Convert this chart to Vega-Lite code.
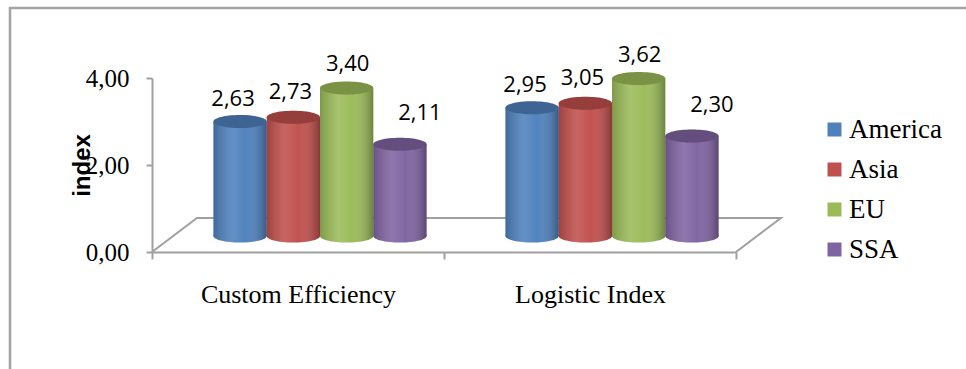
{
  "$schema": "https://vega.github.io/schema/vega-lite/v6.json",
  "usermeta": {"embedOptions": {"actions": false}},
  "width": 976,
  "height": 381,
  "autosize": {"type": "none"},
  "padding": {"left": 10, "top": 8, "right": -20, "bottom": -20},
  "background": "white",
  "config": {
    "locale": {"number": {"decimal": ",", "thousands": ".", "grouping": [3], "currency": ["", " €"]}},
    "view": {"stroke": "#a3a3a3", "strokeWidth": 2.5},
    "axis": {"grid": false}
  },
  "datasets": {
    "regions": [
      {"indicator": "Custom Efficiency", "region": "America", "value": 2.63},
      {"indicator": "Custom Efficiency", "region": "Asia", "value": 2.73},
      {"indicator": "Custom Efficiency", "region": "EU", "value": 3.40},
      {"indicator": "Custom Efficiency", "region": "SSA", "value": 2.11},
      {"indicator": "Logistic Index", "region": "America", "value": 2.95},
      {"indicator": "Logistic Index", "region": "Asia", "value": 3.05},
      {"indicator": "Logistic Index", "region": "EU", "value": 3.62},
      {"indicator": "Logistic Index", "region": "SSA", "value": 2.30}
    ],
    "floor": [
      {"corner": 1, "across": 0, "depth": 0},
      {"corner": 2, "across": 0, "depth": 1},
      {"corner": 3, "across": 2, "depth": 1},
      {"corner": 4, "across": 2, "depth": 0}
    ]
  },
  "layer": [
    {
      "description": "front axes: category axis along the front edge of the floor, value axis on the left wall",
      "data": {"name": "regions"},
      "mark": {"type": "point", "opacity": 0},
      "encoding": {
        "x": {
          "field": "indicator", "type": "nominal",
          "scale": {"type": "band", "range": [142, 726], "paddingInner": 0, "paddingOuter": 0},
          "axis": {
            "title": null, "orient": "bottom", "offset": -137,
            "domainColor": "#a0a0a0", "domainWidth": 2,
            "tickColor": "#a0a0a0", "tickWidth": 2, "tickSize": 7, "tickBand": "extent",
            "labelFont": "Liberation Serif", "labelFontSize": 26, "labelColor": "#000000",
            "labelAngle": 0, "labelPadding": 43, "labelBaseline": "alphabetic", "labelLimit": 0
          }
        },
        "y": {
          "datum": 0, "type": "quantitative",
          "scale": {"domain": [0, 4], "range": [244, 70], "nice": false},
          "axis": {
            "title": "index", "values": [0, 2, 4], "format": ".2f", "offset": -142,
            "domainColor": "#a0a0a0", "domainWidth": 2,
            "tickColor": "#a0a0a0", "tickWidth": 2, "tickSize": 6,
            "labelFont": "Liberation Serif", "labelFontSize": 25, "labelColor": "#000000",
            "labelPadding": 17, "labelBaseline": "middle",
            "titleFont": "Liberation Sans", "titleFontSize": 24, "titleFontWeight": "bold",
            "titleColor": "#000000", "titleAngle": 270, "titleX": -70, "titleY": 157,
            "titleAlign": "center", "titleBaseline": "middle"
          }
        }
      }
    },
    {
      "description": "outline of the chart floor, receding from the front edge",
      "data": {"name": "floor"},
      "mark": {"type": "line", "color": "#a0a0a0", "strokeWidth": 2},
      "encoding": {
        "x": {"field": "across", "type": "ordinal", "scale": {"type": "point", "domain": [0, 2], "range": [142, 726], "padding": 0}, "axis": null},
        "xOffset": {"field": "depth", "type": "quantitative", "scale": {"domain": [0, 1], "range": [0, 45]}},
        "y": {"datum": 0, "type": "quantitative", "scale": {"domain": [0, 4], "range": [244, 70], "nice": false}, "axis": null},
        "yOffset": {"field": "depth", "type": "quantitative", "scale": {"domain": [0, 1], "range": [0, -34]}},
        "order": {"field": "corner", "type": "quantitative"}
      }
    },
    {
      "description": "cylinders standing halfway back on the floor",
      "data": {"name": "regions"},
      "encoding": {
        "x": {
          "field": "indicator", "type": "nominal",
          "scale": {"type": "band", "range": [164, 748], "paddingInner": 0.27, "paddingOuter": 0.135},
          "axis": null
        },
        "xOffset": {"field": "region", "type": "nominal", "sort": ["America", "Asia", "EU", "SSA"]},
        "y": {
          "field": "value", "type": "quantitative",
          "scale": {"domain": [0, 4], "range": [228, 54], "nice": false},
          "axis": null
        }
      },
      "layer": [
        {
          "mark": {"type": "point", "shape": "M -1 0 A 1 0.245 0 1 1 1 0 A 1 0.245 0 1 1 -1 0 Z", "size": 2840, "filled": true, "opacity": 1, "strokeWidth": 0},
          "encoding": {
            "y": {"datum": 0, "type": "quantitative"},
            "color": {
              "field": "region", "type": "nominal",
              "scale": {"domain": ["America", "Asia", "EU", "SSA"], "range": ["#4f81bd", "#c0504d", "#9bbb59", "#8064a2"]},
              "legend": {
                "title": null, "orient": "none", "legendX": 811, "legendY": 108,
                "symbolType": "square", "symbolSize": 196, "symbolStrokeWidth": 0, "symbolOpacity": 1,
                "labelFont": "Liberation Serif", "labelFontSize": 27, "labelColor": "#000000",
                "labelOffset": 1, "rowPadding": 12
              }
            }
          }
        },
        {
          "mark": {
            "type": "point", "shape": "M -1 0 A 1 0.245 0 1 1 1 0 A 1 0.245 0 1 1 -1 0 Z", "size": 2840, "filled": true, "opacity": 1, "strokeWidth": 0,
            "fill": {"gradient": "linear", "x1": 0, "y1": 0, "x2": 1, "y2": 0, "stops": [
              {"offset": 0, "color": "rgba(0,0,0,0.18)"},
              {"offset": 0.35, "color": "rgba(255,255,255,0.12)"},
              {"offset": 0.6, "color": "rgba(255,255,255,0.02)"},
              {"offset": 1, "color": "rgba(0,0,0,0.3)"}
            ]}
          },
          "encoding": {"y": {"datum": 0, "type": "quantitative"}}
        },
        {
          "mark": {"type": "bar", "strokeWidth": 0},
          "encoding": {"color": {"field": "region", "type": "nominal"}}
        },
        {
          "mark": {
            "type": "bar", "strokeWidth": 0,
            "fill": {"gradient": "linear", "x1": 0, "y1": 0, "x2": 1, "y2": 0, "stops": [
              {"offset": 0, "color": "rgba(0,0,0,0.18)"},
              {"offset": 0.35, "color": "rgba(255,255,255,0.12)"},
              {"offset": 0.6, "color": "rgba(255,255,255,0.02)"},
              {"offset": 1, "color": "rgba(0,0,0,0.3)"}
            ]}
          }
        },
        {
          "mark": {"type": "point", "shape": "M -1 0 A 1 0.245 0 1 1 1 0 A 1 0.245 0 1 1 -1 0 Z", "size": 2840, "filled": true, "opacity": 1, "strokeWidth": 0},
          "encoding": {"color": {"field": "region", "type": "nominal"}}
        },
        {
          "mark": {"type": "point", "shape": "M -1 0 A 1 0.245 0 1 1 1 0 A 1 0.245 0 1 1 -1 0 Z", "size": 2840, "filled": true, "fill": "#000000", "opacity": 0.22, "strokeWidth": 0}
        },
        {
          "transform": [{"filter": "datum.region === 'America'"}],
          "mark": {"type": "text", "font": "Open Sans", "fontSize": 22, "color": "#000000", "align": "center", "baseline": "alphabetic", "dx": -7, "dy": -16},
          "encoding": {"text": {"field": "value", "type": "quantitative", "format": ".2f"}}
        },
        {
          "transform": [{"filter": "datum.region === 'Asia'"}],
          "mark": {"type": "text", "font": "Open Sans", "fontSize": 22, "color": "#000000", "align": "center", "baseline": "alphabetic", "dx": -3, "dy": -18},
          "encoding": {"text": {"field": "value", "type": "quantitative", "format": ".2f"}}
        },
        {
          "transform": [{"filter": "datum.region === 'EU'"}],
          "mark": {"type": "text", "font": "Open Sans", "fontSize": 22, "color": "#000000", "align": "center", "baseline": "alphabetic", "dx": 1, "dy": -17},
          "encoding": {"text": {"field": "value", "type": "quantitative", "format": ".2f"}}
        },
        {
          "transform": [{"filter": "datum.region === 'SSA'"}],
          "mark": {"type": "text", "font": "Open Sans", "fontSize": 22, "color": "#000000", "align": "center", "baseline": "alphabetic", "dx": 20, "dy": -24},
          "encoding": {"text": {"field": "value", "type": "quantitative", "format": ".2f"}}
        }
      ]
    }
  ],
  "resolve": {"scale": {"x": "independent", "y": "independent", "xOffset": "independent", "yOffset": "independent"}}
}
